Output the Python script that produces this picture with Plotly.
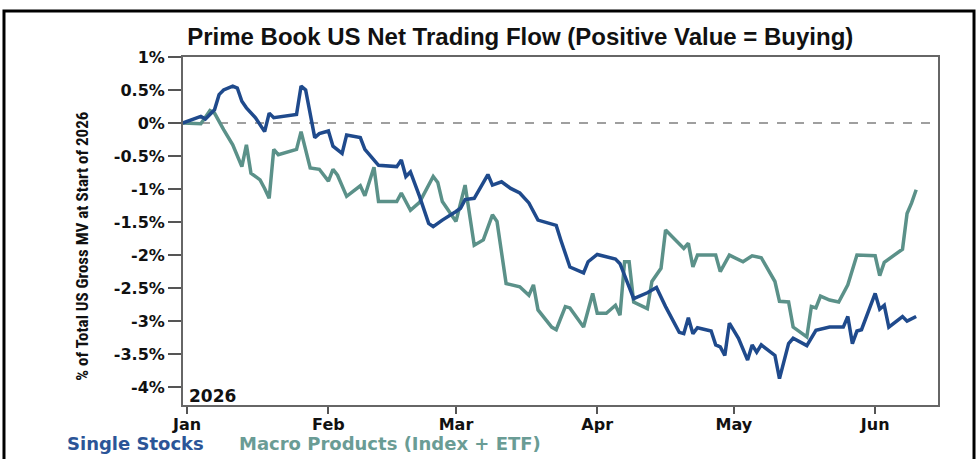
import plotly.graph_objects as go

# ---------------- data ----------------
stock_dates = [
    "2025-12-31", "2026-01-04", "2026-01-05", "2026-01-07", "2026-01-08", "2026-01-09",
    "2026-01-11", "2026-01-12", "2026-01-13", "2026-01-14", "2026-01-16", "2026-01-18",
    "2026-01-19", "2026-01-20", "2026-01-25", "2026-01-26", "2026-01-27", "2026-01-29",
    "2026-01-30", "2026-02-01", "2026-02-02", "2026-02-04", "2026-02-05", "2026-02-08",
    "2026-02-09", "2026-02-10", "2026-02-12", "2026-02-16", "2026-02-17", "2026-02-18",
    "2026-02-19", "2026-02-21", "2026-02-23", "2026-02-24", "2026-02-26", "2026-03-01",
    "2026-03-02", "2026-03-03", "2026-03-05", "2026-03-08", "2026-03-09", "2026-03-11",
    "2026-03-13", "2026-03-15", "2026-03-17", "2026-03-19", "2026-03-22", "2026-03-23",
    "2026-03-24", "2026-03-26", "2026-03-29", "2026-03-30", "2026-04-01", "2026-04-05",
    "2026-04-06", "2026-04-08", "2026-04-09", "2026-04-12", "2026-04-14", "2026-04-16",
    "2026-04-19", "2026-04-20", "2026-04-21", "2026-04-22", "2026-04-23", "2026-04-26",
    "2026-04-27", "2026-04-28", "2026-04-29", "2026-04-30", "2026-05-02", "2026-05-04",
    "2026-05-05", "2026-05-06", "2026-05-07", "2026-05-10", "2026-05-11", "2026-05-13",
    "2026-05-14", "2026-05-17", "2026-05-19", "2026-05-22", "2026-05-25", "2026-05-26",
    "2026-05-27", "2026-05-28", "2026-05-29", "2026-06-01", "2026-06-02", "2026-06-03",
    "2026-06-04", "2026-06-07", "2026-06-08", "2026-06-10",
]
single_stocks = [
    0.00, 0.10, 0.06, 0.20, 0.43, 0.50,
    0.56, 0.53, 0.33, 0.23, 0.08, -0.13,
    0.15, 0.08, 0.13, 0.56, 0.50, -0.22,
    -0.16, -0.12, -0.35, -0.46, -0.18, -0.22,
    -0.40, -0.48, -0.64, -0.66, -0.56, -0.81,
    -0.74, -1.11, -1.52, -1.57, -1.47, -1.34,
    -1.29, -1.16, -1.14, -0.78, -0.94, -0.89,
    -0.99, -1.06, -1.21, -1.47, -1.52, -1.55,
    -1.77, -2.18, -2.27, -2.10, -1.99, -2.06,
    -2.13, -2.50, -2.66, -2.57, -2.49, -2.78,
    -3.17, -3.19, -2.95, -3.19, -3.10, -3.15,
    -3.36, -3.39, -3.52, -3.03, -3.26, -3.59,
    -3.36, -3.47, -3.36, -3.52, -3.87, -3.34,
    -3.26, -3.37, -3.14, -3.09, -3.09, -2.93,
    -3.34, -3.15, -3.13, -2.58, -2.82, -2.76,
    -3.09, -2.93, -3.00, -2.93,
]

macro_dates = [
    "2025-12-31", "2026-01-04", "2026-01-06", "2026-01-07", "2026-01-09", "2026-01-11",
    "2026-01-13", "2026-01-14", "2026-01-15", "2026-01-17", "2026-01-18", "2026-01-19",
    "2026-01-20", "2026-01-21", "2026-01-25", "2026-01-26", "2026-01-28", "2026-01-30",
    "2026-02-01", "2026-02-02", "2026-02-03", "2026-02-05", "2026-02-08", "2026-02-09",
    "2026-02-11", "2026-02-12", "2026-02-16", "2026-02-17", "2026-02-19", "2026-02-21",
    "2026-02-24", "2026-02-25", "2026-02-26", "2026-03-01", "2026-03-03", "2026-03-05",
    "2026-03-07", "2026-03-09", "2026-03-10", "2026-03-12", "2026-03-15", "2026-03-17",
    "2026-03-18", "2026-03-19", "2026-03-22", "2026-03-23", "2026-03-25", "2026-03-26",
    "2026-03-29", "2026-03-31", "2026-04-01", "2026-04-03", "2026-04-05", "2026-04-06",
    "2026-04-07", "2026-04-08", "2026-04-09", "2026-04-12", "2026-04-13", "2026-04-15",
    "2026-04-16", "2026-04-20", "2026-04-21", "2026-04-22", "2026-04-23", "2026-04-27",
    "2026-04-28", "2026-04-30", "2026-05-03", "2026-05-05", "2026-05-07", "2026-05-10",
    "2026-05-11", "2026-05-13", "2026-05-14", "2026-05-17", "2026-05-18", "2026-05-19",
    "2026-05-20", "2026-05-22", "2026-05-24", "2026-05-26", "2026-05-28", "2026-06-01",
    "2026-06-02", "2026-06-03", "2026-06-07", "2026-06-08", "2026-06-09", "2026-06-10",
]
macro_products = [
    0.00, -0.01, 0.19, 0.15, -0.10, -0.33,
    -0.66, -0.33, -0.76, -0.86, -0.99, -1.14,
    -0.40, -0.48, -0.40, -0.13, -0.68, -0.70,
    -0.88, -0.70, -0.79, -1.11, -0.95, -1.10,
    -0.67, -1.19, -1.19, -1.06, -1.32, -1.20,
    -0.81, -0.90, -1.19, -1.49, -0.94, -1.85,
    -1.77, -1.39, -1.49, -2.43, -2.48, -2.61,
    -2.45, -2.83, -3.09, -3.13, -2.78, -2.80,
    -3.09, -2.58, -2.88, -2.88, -2.76, -2.91,
    -2.10, -2.10, -2.71, -2.81, -2.40, -2.20,
    -1.62, -1.90, -1.82, -2.18, -2.00, -2.00,
    -2.25, -2.00, -2.10, -2.01, -2.04, -2.40,
    -2.70, -2.71, -3.09, -3.24, -2.78, -2.80,
    -2.62, -2.68, -2.71, -2.45, -2.00, -2.01,
    -2.31, -2.11, -1.91, -1.37, -1.21, -1.01,
]

y_tickvals = [1, 0.5, 0, -0.5, -1, -1.5, -2, -2.5, -3, -3.5, -4]
y_ticktext = ["1%", "0.5%", "0%", "-0.5%", "-1%", "-1.5%", "-2%", "-2.5%", "-3%", "-3.5%", "-4%"]
x_tickvals = ["2026-01-01", "2026-02-01", "2026-03-01", "2026-04-01", "2026-05-01", "2026-06-01"]
x_ticktext = ["Jan", "Feb", "Mar", "Apr", "May", "Jun"]

series_names = ["Single Stocks", "Macro Products (Index + ETF)"]
title_text = "Prime Book US Net Trading Flow (Positive Value = Buying)"
ytitle_text = "% of Total US Gross MV at Start of 2026"
year_text = "2026"

BLUE = "#1f4a8c"
TEAL = "#5b9189"
TICKFONT = dict(family="DejaVu Sans", size=16, color="#111111", weight="bold")
NARROW = "Liberation Sans Narrow, Arial Narrow, Roboto Condensed, Liberation Sans"

fig = go.Figure()
fig.add_trace(go.Scatter(x=macro_dates, y=macro_products, mode="lines", name=series_names[1],
                         line=dict(color=TEAL, width=3.5)))
fig.add_trace(go.Scatter(x=stock_dates, y=single_stocks, mode="lines", name=series_names[0],
                         line=dict(color=BLUE, width=3.5)))

fig.add_hline(y=0, line=dict(color="#808080", width=1.5, dash="dash"), layer="below")

fig.update_layout(
    width=978, height=459,
    margin=dict(l=183, r=40, t=57, b=54),
    paper_bgcolor="white", plot_bgcolor="white",
    showlegend=False,
    title=dict(text=title_text, x=0.532, xanchor="center", y=0.92, yanchor="middle",
               font=dict(family="Liberation Sans", size=24, color="#111111", weight="bold")),
    xaxis=dict(range=["2025-12-31 02:00", "2026-06-14 19:00"],
               tickvals=x_tickvals, ticktext=x_ticktext, tickfont=TICKFONT,
               ticks="outside", ticklen=7, tickwidth=2, tickcolor="#555555",
               ticklabelstandoff=-3,
               showgrid=False, zeroline=False,
               showline=True, linecolor="#666666", linewidth=2, mirror=True),
    yaxis=dict(range=[-4.27, 1.0], tickvals=y_tickvals, ticktext=y_ticktext, tickfont=TICKFONT,
               ticks="outside", ticklen=13, tickwidth=1.5, tickcolor="#555555",
               showgrid=False, zeroline=False,
               showline=True, linecolor="#666666", linewidth=2, mirror=True),
)

fig.add_annotation(text=ytitle_text, xref="paper", yref="paper", x=-0.134, y=0.457,
                   xanchor="center", yanchor="middle", textangle=-90, showarrow=False,
                   font=dict(family=NARROW, size=17, color="#111111", weight="bold"))
fig.add_annotation(text=year_text, xref="paper", yref="paper", x=0.005, y=0.026,
                   xanchor="left", yanchor="middle", showarrow=False,
                   font=dict(family="DejaVu Sans", size=17, color="#111111", weight="bold"))
fig.add_annotation(text=series_names[0], xref="paper", yref="paper", x=-0.1563, y=-0.11,
                   xanchor="left", yanchor="middle", showarrow=False,
                   font=dict(family="DejaVu Sans", size=18, color="#2b5597", weight="bold"))
fig.add_annotation(text=series_names[1], xref="paper", yref="paper", x=0.0715, y=-0.11,
                   xanchor="left", yanchor="middle", showarrow=False,
                   font=dict(family="DejaVu Sans", size=18, color="#6a9c95", weight="bold"))

# outer black frame of the exhibit
fig.add_shape(type="rect", xref="paper", yref="paper", x0=-0.2371, x1=1.0477, y0=-0.2, y1=1.132,
              line=dict(color="#000000", width=3), fillcolor="rgba(0,0,0,0)", layer="below")

fig.write_html("out.html")
